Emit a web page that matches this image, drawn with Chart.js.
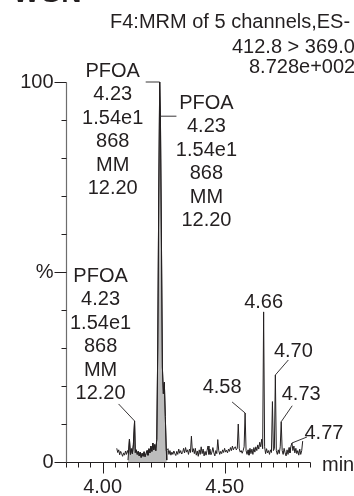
<!DOCTYPE html>
<html>
<head>
<meta charset="utf-8">
<script src="https://cdn.jsdelivr.net/npm/chart.js@4.4.1/dist/chart.umd.min.js"></script>
<style>
  html, body { margin: 0; padding: 0; background: #fff; }
  #c { display: block; }
</style>
</head>
<body>
<canvas id="c" width="354" height="496"></canvas>
<script>
// retention time (min) and relative intensity (%)
const times = [
  4.058, 4.062, 4.066, 4.070, 4.074, 4.078, 4.082, 4.086, 4.090, 4.094,
  4.098, 4.102, 4.106, 4.110, 4.114, 4.118, 4.122, 4.126, 4.131, 4.134,
  4.138, 4.142, 4.146, 4.150, 4.154, 4.158, 4.162, 4.166, 4.170, 4.174,
  4.178, 4.182, 4.186, 4.190, 4.194, 4.198, 4.202, 4.206, 4.210, 4.214,
  4.218, 4.222, 4.226, 4.230, 4.234, 4.237, 4.241, 4.245, 4.249, 4.253,
  4.257, 4.261, 4.268, 4.272, 4.276, 4.280, 4.284, 4.288, 4.292,
  4.296, 4.300, 4.304, 4.308, 4.312, 4.316, 4.320, 4.324, 4.328, 4.332,
  4.336, 4.340, 4.344, 4.348, 4.352, 4.356, 4.360, 4.364, 4.368, 4.372,
  4.376, 4.380, 4.384, 4.388, 4.392, 4.396, 4.400, 4.404, 4.408, 4.412,
  4.416, 4.420, 4.424, 4.428, 4.432, 4.436, 4.440, 4.444, 4.448, 4.452,
  4.456, 4.460, 4.464, 4.468, 4.472, 4.476, 4.480, 4.484, 4.488, 4.492,
  4.496, 4.500, 4.504, 4.508, 4.512, 4.516, 4.520, 4.524, 4.528, 4.532,
  4.536, 4.540, 4.544, 4.548, 4.552, 4.556, 4.560, 4.564, 4.568, 4.572,
  4.576, 4.580, 4.584, 4.588, 4.592, 4.596, 4.600, 4.604, 4.608, 4.612,
  4.616, 4.620, 4.624, 4.628, 4.632, 4.636, 4.640, 4.644, 4.648, 4.652,
  4.656, 4.660, 4.664, 4.668, 4.672, 4.676, 4.680, 4.684, 4.688, 4.692,
  4.696, 4.700, 4.704, 4.708, 4.712, 4.716, 4.720, 4.724, 4.728, 4.732,
  4.736, 4.740, 4.744, 4.748, 4.752, 4.756, 4.760, 4.764, 4.768, 4.772,
  4.776, 4.780, 4.784, 4.788, 4.792, 4.796, 4.800, 4.804, 4.808, 4.812,
  4.816, 4.820
];
const intensity = [
  3.6, 2.5, 3.2, 1.9, 2.8, 2.2, 1.5, 2.4, 1.8, 2.9,
  2.0, 3.0, 2.2, 6.0, 2.0, 3.5, 2.2, 4.5, 10.8, 2.5,
  3.2, 2.0, 2.8, 1.6, 2.6, 1.2, 2.3, 1.5, 2.7, 1.4,
  2.2, 3.0, 1.8, 3.5, 2.4, 4.2, 2.8, 5.0, 3.2, 4.6,
  3.0, 6.0, 30, 70, 100, 91, 60, 25, 18, 21,
  12, 3.0, 3.5, 2.0, 3.0, 1.8, 2.6, 2.0, 2.9,
  2.2, 1.7, 2.8, 2.0, 3.4, 2.3, 3.0, 2.1, 2.5, 3.6,
  2.4, 3.8, 2.6, 3.2, 2.0, 3.4, 2.5, 6.8, 2.6, 3.5,
  2.2, 3.6, 1.8, 2.9, 1.5, 3.2, 2.0, 4.0, 2.2, 3.4,
  1.6, 2.8, 1.8, 3.0, 4.2, 2.0, 3.4, 1.9, 2.6, 3.8,
  2.4, 1.6, 3.0, 2.2, 5.9, 3.0, 2.0, 2.8, 2.2, 3.2,
  2.5, 3.6, 2.6, 3.1, 2.4, 3.4, 2.8, 3.8, 3.0, 4.2,
  3.2, 3.8, 4.0, 3.2, 3.6, 10.0, 3.5, 2.6, 3.0, 2.3,
  3.0, 4.0, 12.9, 3.0, 2.0, 3.2, 1.8, 3.6, 2.2, 3.4,
  2.0, 3.8, 2.6, 4.0, 3.0, 4.5, 3.4, 5.2, 4.0, 6.0,
  3.5, 39.5, 4.0, 2.2, 3.5, 2.4, 3.0, 2.0, 3.2, 2.5,
  15.9, 3.0, 3.5, 22.9, 3.0, 2.0, 3.2, 2.2, 4.0, 10.6,
  3.0, 2.0, 3.6, 2.4, 1.6, 3.2, 2.0, 3.8, 2.4, 4.2,
  5.0, 3.0, 4.2, 2.4, 3.6, 2.2, 3.0, 1.8, 3.4, 2.0,
  3.0, 5.5
];

// integrated (shaded) peak window and its baseline level
const integStart = 4.104;
const integEnd = 4.263;
const integBase = 0.5;

// labelled peaks
const peakTimes = [4.584, 4.660, 4.708, 4.732, 4.776];
const peakNames = ['4.58', '4.66', '4.70', '4.73', '4.77'];

// compound annotation blocks (anchored at these retention times)
const blockTimes = [4.234, 4.237, 4.131];
const blockLines = ['PFOA', '4.23', '1.54e1', '868', 'MM', '12.20'];

const headerLines = ['F4:MRM of 5 channels,ES-', '412.8 > 369.0', '8.728e+002'];
const panelTitle = 'WGN';

const xMin = 3.85, xMax = 4.85;
const xMinorTicks = [3.85, 3.90, 3.95, 4.00, 4.05, 4.10, 4.15, 4.20, 4.25, 4.30, 4.35,
                     4.40, 4.45, 4.50, 4.55, 4.60, 4.65, 4.70, 4.75, 4.80, 4.85];
const xLabelTicks = [4.00, 4.50];
const xLabels = ['4.00', '4.50'];
const xUnit = 'min';
const yMinorTicks = [0, 10, 20, 30, 40, 50, 60, 70, 80, 90, 100];
const yLabelTicks = [0, 50, 100];
const yLabels = ['0', '%', '100'];

const trace = times.map((t, i) => ({ x: t, y: intensity[i] }));
const integ = [{ x: integStart, y: integBase }]
  .concat(trace.filter(p => p.x >= integStart && p.x <= integEnd))
  .concat([{ x: integEnd, y: integBase }]);

function valueAt(t) {
  let best = 0;
  times.forEach((tt, i) => { if (Math.abs(tt - t) < Math.abs(times[best] - t)) best = i; });
  return intensity[best];
}

const FONT = '"Liberation Sans", Arial, Helvetica, sans-serif';
const INK = '#231f20';

const decor = {
  id: 'decor',
  afterDraw(chart) {
    const { ctx, scales: { x, y } } = chart;
    const px = v => x.getPixelForValue(v);
    const py = v => y.getPixelForValue(v);
    const seg = (a, b, c, d) => { ctx.beginPath(); ctx.moveTo(a, b); ctx.lineTo(c, d); ctx.stroke(); };
    ctx.save();

    // axes
    const ax = Math.round(px(xMin)) + 0.5;
    const ay = Math.round(py(0)) + 0.5;
    ctx.lineWidth = 1.2;
    ctx.strokeStyle = '#6d6d6d';
    seg(ax, Math.round(py(100)) + 0.5, ax, ay);
    ctx.strokeStyle = INK;
    seg(ax, ay, Math.round(px(xMax)) + 0.5, ay);

    // y ticks
    ctx.lineWidth = 1;
    ctx.strokeStyle = INK;
    yMinorTicks.forEach(v => {
      const yy = Math.round(py(v)) + 0.5;
      const len = yLabelTicks.includes(v) ? 12 : 5;
      seg(ax - len, yy, ax, yy);
    });
    // x ticks
    xMinorTicks.forEach(v => {
      const xx = Math.round(px(v)) + 0.5;
      const len = xLabelTicks.includes(v) ? 11 : 5;
      seg(xx, ay, xx, ay + len);
    });

    ctx.fillStyle = INK;
    ctx.font = '20px ' + FONT;
    ctx.textBaseline = 'middle';

    // tick labels
    ctx.textAlign = 'right';
    yLabelTicks.forEach((v, i) => ctx.fillText(yLabels[i], ax - 13, py(v)));
    ctx.textAlign = 'center';
    xLabelTicks.forEach((v, i) => ctx.fillText(xLabels[i], px(v), ay + 25));
    ctx.textAlign = 'left';
    ctx.fillText(xUnit, px(xMax) + 12, ay + 3);

    // header
    ctx.fillText(headerLines[0], 110, 22);
    ctx.fillText(headerLines[1], 232, 47);
    ctx.fillText(headerLines[2], 249, 67);

    // cut-off panel title at the very top
    ctx.font = 'bold 28px ' + FONT;
    ctx.textBaseline = 'alphabetic';
    ctx.fillText(panelTitle, 13, 2);

    ctx.font = '20px ' + FONT;
    ctx.textBaseline = 'middle';
    ctx.textAlign = 'center';
    ctx.lineWidth = 0.9;

    // peak labels with leader lines
    const lab = {
      '4.58': { tx: -23, ty: -25, lx: -13, ly: -11 },
      '4.66': { tx: 0, ty: -9 },
      '4.70': { tx: 18, ty: -23, lx: 13, ly: -15 },
      '4.73': { tx: 20, ty: -27, lx: 11, ly: -16 },
      '4.77': { tx: 32, ty: -10, lx: 15, ly: -6 }
    };
    peakTimes.forEach((t, i) => {
      const x0 = px(t), y0 = py(valueAt(t));
      const o = lab[peakNames[i]];
      if (o.lx !== undefined) seg(x0, y0, x0 + o.lx, y0 + o.ly);
      ctx.fillText(peakNames[i], x0 + o.tx, y0 + o.ty);
    });

    // compound annotation blocks
    const gap = 23.5;
    const blk = [
      { tx: -47, ty: -11, lx: -14, ly: 0 },
      { tx: 46, ty: -13, lx: 16, ly: 0 },
      { tx: -34, ty: -27 - 5 * gap, lx: -16, ly: -17 }
    ];
    blockTimes.forEach((t, i) => {
      const x0 = px(t), y0 = py(valueAt(t));
      const o = blk[i];
      seg(x0, y0, x0 + o.lx, y0 + o.ly);
      blockLines.forEach((s, k) => ctx.fillText(s, x0 + o.tx, y0 + o.ty + k * gap));
    });

    ctx.restore();
  }
};

new Chart(document.getElementById('c'), {
  type: 'line',
  data: {
    datasets: [
      { data: trace, borderColor: INK, borderWidth: 1, pointRadius: 0, tension: 0, fill: false, clip: false, order: 0 },
      { data: integ, borderColor: INK, borderWidth: 1, backgroundColor: '#bcbcbc', pointRadius: 0, tension: 0, fill: 'origin', clip: false, order: 1 }
    ]
  },
  options: {
    responsive: false,
    devicePixelRatio: 1,
    animation: false,
    layout: { padding: { left: 66, right: 44, top: 82, bottom: 34 } },
    plugins: { legend: { display: false }, tooltip: { enabled: false } },
    scales: {
      x: { type: 'linear', min: xMin, max: xMax, display: false },
      y: { type: 'linear', min: 0, max: 100, display: false }
    }
  },
  plugins: [decor]
});
</script>
</body>
</html>
